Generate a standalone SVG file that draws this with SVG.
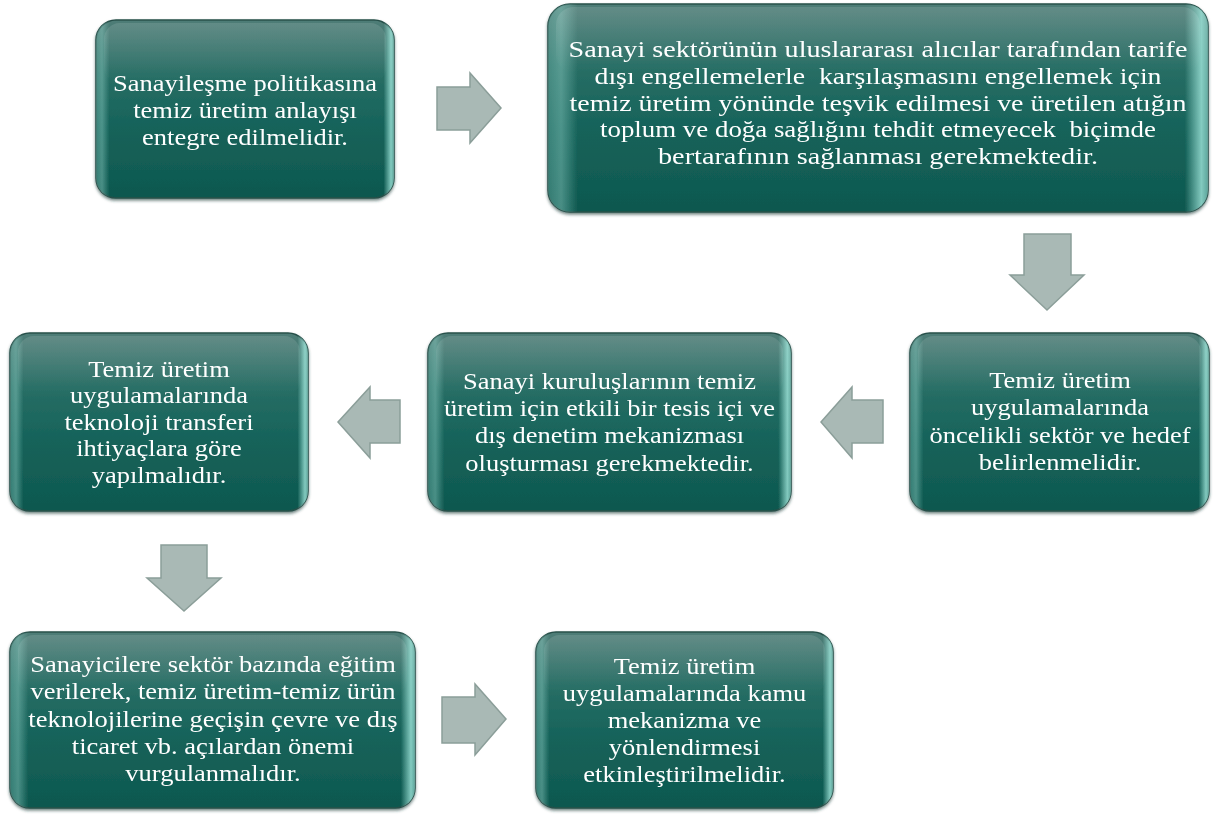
<svg xmlns="http://www.w3.org/2000/svg" width="1215" height="814" viewBox="0 0 1215 814">
  <style>
    .label { font-family: "Liberation Serif", "Times New Roman", serif; font-size: 23.5px; fill: #ffffff; text-anchor: middle; white-space: pre; }
    .body { fill: url(#bodyFill); stroke: #27504a; stroke-width: 1.5; }
    .sides { fill: url(#sideGloss); }
    .shine { fill: url(#topGloss); }
    .arrow { fill: #a9b9b5; stroke: #8b9e99; stroke-width: 1.5; stroke-linejoin: miter; }
  </style>
  <defs>
    <linearGradient id="bodyFill" x1="0" y1="0" x2="0" y2="1">
      <stop offset="0" stop-color="#4f7d77"/>
      <stop offset="0.3" stop-color="#286e65"/>
      <stop offset="0.6" stop-color="#16635a"/>
      <stop offset="1" stop-color="#0e584f"/>
    </linearGradient>
    <linearGradient id="sideGloss" x1="0" y1="0" x2="1" y2="0">
      <stop offset="0" stop-color="#9fded4" stop-opacity="0.25"/>
      <stop offset="0.02" stop-color="#9fded4" stop-opacity="0.4"/>
      <stop offset="0.045" stop-color="#9fded4" stop-opacity="0"/>
      <stop offset="0.965" stop-color="#a8eee3" stop-opacity="0"/>
      <stop offset="0.99" stop-color="#a8eee3" stop-opacity="0.75"/>
      <stop offset="1" stop-color="#a8eee3" stop-opacity="0.5"/>
    </linearGradient>
    <linearGradient id="topGloss" x1="0" y1="0" x2="0" y2="1">
      <stop offset="0" stop-color="#ffffff" stop-opacity="0.12"/>
      <stop offset="1" stop-color="#ffffff" stop-opacity="0"/>
    </linearGradient>
    <filter id="drop" x="-5%" y="-5%" width="110%" height="115%">
      <feGaussianBlur in="SourceAlpha" stdDeviation="1.5"/>
      <feOffset dy="2" result="b"/>
      <feFlood flood-color="#1b3a36" flood-opacity="0.6"/>
      <feComposite in2="b" operator="in"/>
      <feMerge><feMergeNode/><feMergeNode in="SourceGraphic"/></feMerge>
    </filter>
  </defs>

  <rect width="1215" height="814" fill="#ffffff"/>

  <!-- connectors: block arrows between steps -->
  <g id="connectors">
    <path class="arrow" d="M437,87 L470,87 L470,73 L501,108 L470,143 L470,130 L437,130 Z"/>
    <path class="arrow" d="M1024,234 L1071,234 L1071,275 L1084,275 L1047,310 L1010,275 L1024,275 Z"/>
    <path class="arrow" d="M883,400 L852,400 L852,387 L821,422 L852,458 L852,443 L883,443 Z"/>
    <path class="arrow" d="M400,400 L370,400 L370,387 L338,422 L370,458 L370,443 L400,443 Z"/>
    <path class="arrow" d="M161,545 L207,545 L207,578 L221,578 L184,611 L147,578 L161,578 Z"/>
    <path class="arrow" d="M442,697 L475,697 L475,684 L506,719 L475,755 L475,743 L442,743 Z"/>
  </g>

  <!-- labels use a slightly wide type: glyphs are stretched horizontally by 1.128 -->
  <g id="step1" filter="url(#drop)">
    <rect class="body" x="96" y="20" width="298" height="178" rx="20"/>
    <rect class="sides" x="96" y="20" width="298" height="178" rx="20"/>
    <rect class="shine" x="104" y="23" width="282" height="60" rx="16"/>
    <g transform="translate(245 0) scale(1.128 1)">
      <text class="label" x="0" y="91">Sanayileşme politikasına</text>
      <text class="label" x="0" y="118">temiz üretim anlayışı</text>
      <text class="label" x="0" y="145">entegre edilmelidir.</text>
    </g>
  </g>

  <g id="step2" filter="url(#drop)">
    <rect class="body" x="548" y="4" width="660" height="208" rx="22"/>
    <rect class="sides" x="548" y="4" width="660" height="208" rx="22"/>
    <rect class="shine" x="556" y="7" width="644" height="66" rx="18"/>
    <text class="label" x="878" y="57" textLength="619" lengthAdjust="spacingAndGlyphs">Sanayi sektörünün uluslararası alıcılar tarafından tarife</text>
    <text class="label" x="878" y="84" textLength="567" lengthAdjust="spacingAndGlyphs">dışı engellemelerle  karşılaşmasını engellemek için</text>
    <text class="label" x="878" y="110.5" textLength="617" lengthAdjust="spacingAndGlyphs">temiz üretim yönünde teşvik edilmesi ve üretilen atığın</text>
    <text class="label" x="878" y="137" textLength="556" lengthAdjust="spacingAndGlyphs">toplum ve doğa sağlığını tehdit etmeyecek  biçimde</text>
    <text class="label" x="878" y="164" textLength="440" lengthAdjust="spacingAndGlyphs">bertarafının sağlanması gerekmektedir.</text>
  </g>

  <g id="step3" filter="url(#drop)">
    <rect class="body" x="910" y="333" width="299" height="178" rx="20"/>
    <rect class="sides" x="910" y="333" width="299" height="178" rx="20"/>
    <rect class="shine" x="918" y="336" width="283" height="60" rx="16"/>
    <g transform="translate(1060 0) scale(1.128 1)">
      <text class="label" x="0" y="388">Temiz üretim</text>
      <text class="label" x="0" y="415">uygulamalarında</text>
      <text class="label" x="0" y="443">öncelikli sektör ve hedef</text>
      <text class="label" x="0" y="470">belirlenmelidir.</text>
    </g>
  </g>

  <g id="step4" filter="url(#drop)">
    <rect class="body" x="428" y="333" width="363" height="178" rx="20"/>
    <rect class="sides" x="428" y="333" width="363" height="178" rx="20"/>
    <rect class="shine" x="436" y="336" width="347" height="60" rx="16"/>
    <g transform="translate(609.5 0) scale(1.128 1)">
      <text class="label" x="0" y="389">Sanayi kuruluşlarının temiz</text>
      <text class="label" x="0" y="416">üretim için etkili bir tesis içi ve</text>
      <text class="label" x="0" y="443">dış denetim mekanizması</text>
      <text class="label" x="0" y="471">oluşturması gerekmektedir.</text>
    </g>
  </g>

  <g id="step5" filter="url(#drop)">
    <rect class="body" x="10" y="333" width="298" height="178" rx="20"/>
    <rect class="sides" x="10" y="333" width="298" height="178" rx="20"/>
    <rect class="shine" x="18" y="336" width="282" height="60" rx="16"/>
    <g transform="translate(159 0) scale(1.128 1)">
      <text class="label" x="0" y="377">Temiz üretim</text>
      <text class="label" x="0" y="403.5">uygulamalarında</text>
      <text class="label" x="0" y="430">teknoloji transferi</text>
      <text class="label" x="0" y="456.5">ihtiyaçlara göre</text>
      <text class="label" x="0" y="483">yapılmalıdır.</text>
    </g>
  </g>

  <g id="step6" filter="url(#drop)">
    <rect class="body" x="10" y="632" width="405" height="176" rx="20"/>
    <rect class="sides" x="10" y="632" width="405" height="176" rx="20"/>
    <rect class="shine" x="18" y="635" width="389" height="60" rx="16"/>
    <g transform="translate(213 0) scale(1.128 1)">
      <text class="label" x="0" y="672.5">Sanayicilere sektör bazında eğitim</text>
      <text class="label" x="0" y="699.5">verilerek, temiz üretim-temiz ürün</text>
      <text class="label" x="0" y="727">teknolojilerine geçişin çevre ve dış</text>
      <text class="label" x="0" y="754">ticaret vb. açılardan önemi</text>
      <text class="label" x="0" y="781.5">vurgulanmalıdır.</text>
    </g>
  </g>

  <g id="step7" filter="url(#drop)">
    <rect class="body" x="536" y="632" width="297" height="176" rx="20"/>
    <rect class="sides" x="536" y="632" width="297" height="176" rx="20"/>
    <rect class="shine" x="544" y="635" width="281" height="60" rx="16"/>
    <g transform="translate(684.5 0) scale(1.128 1)">
      <text class="label" x="0" y="674">Temiz üretim</text>
      <text class="label" x="0" y="701">uygulamalarında kamu</text>
      <text class="label" x="0" y="728">mekanizma ve</text>
      <text class="label" x="0" y="755">yönlendirmesi</text>
      <text class="label" x="0" y="782">etkinleştirilmelidir.</text>
    </g>
  </g>
</svg>
